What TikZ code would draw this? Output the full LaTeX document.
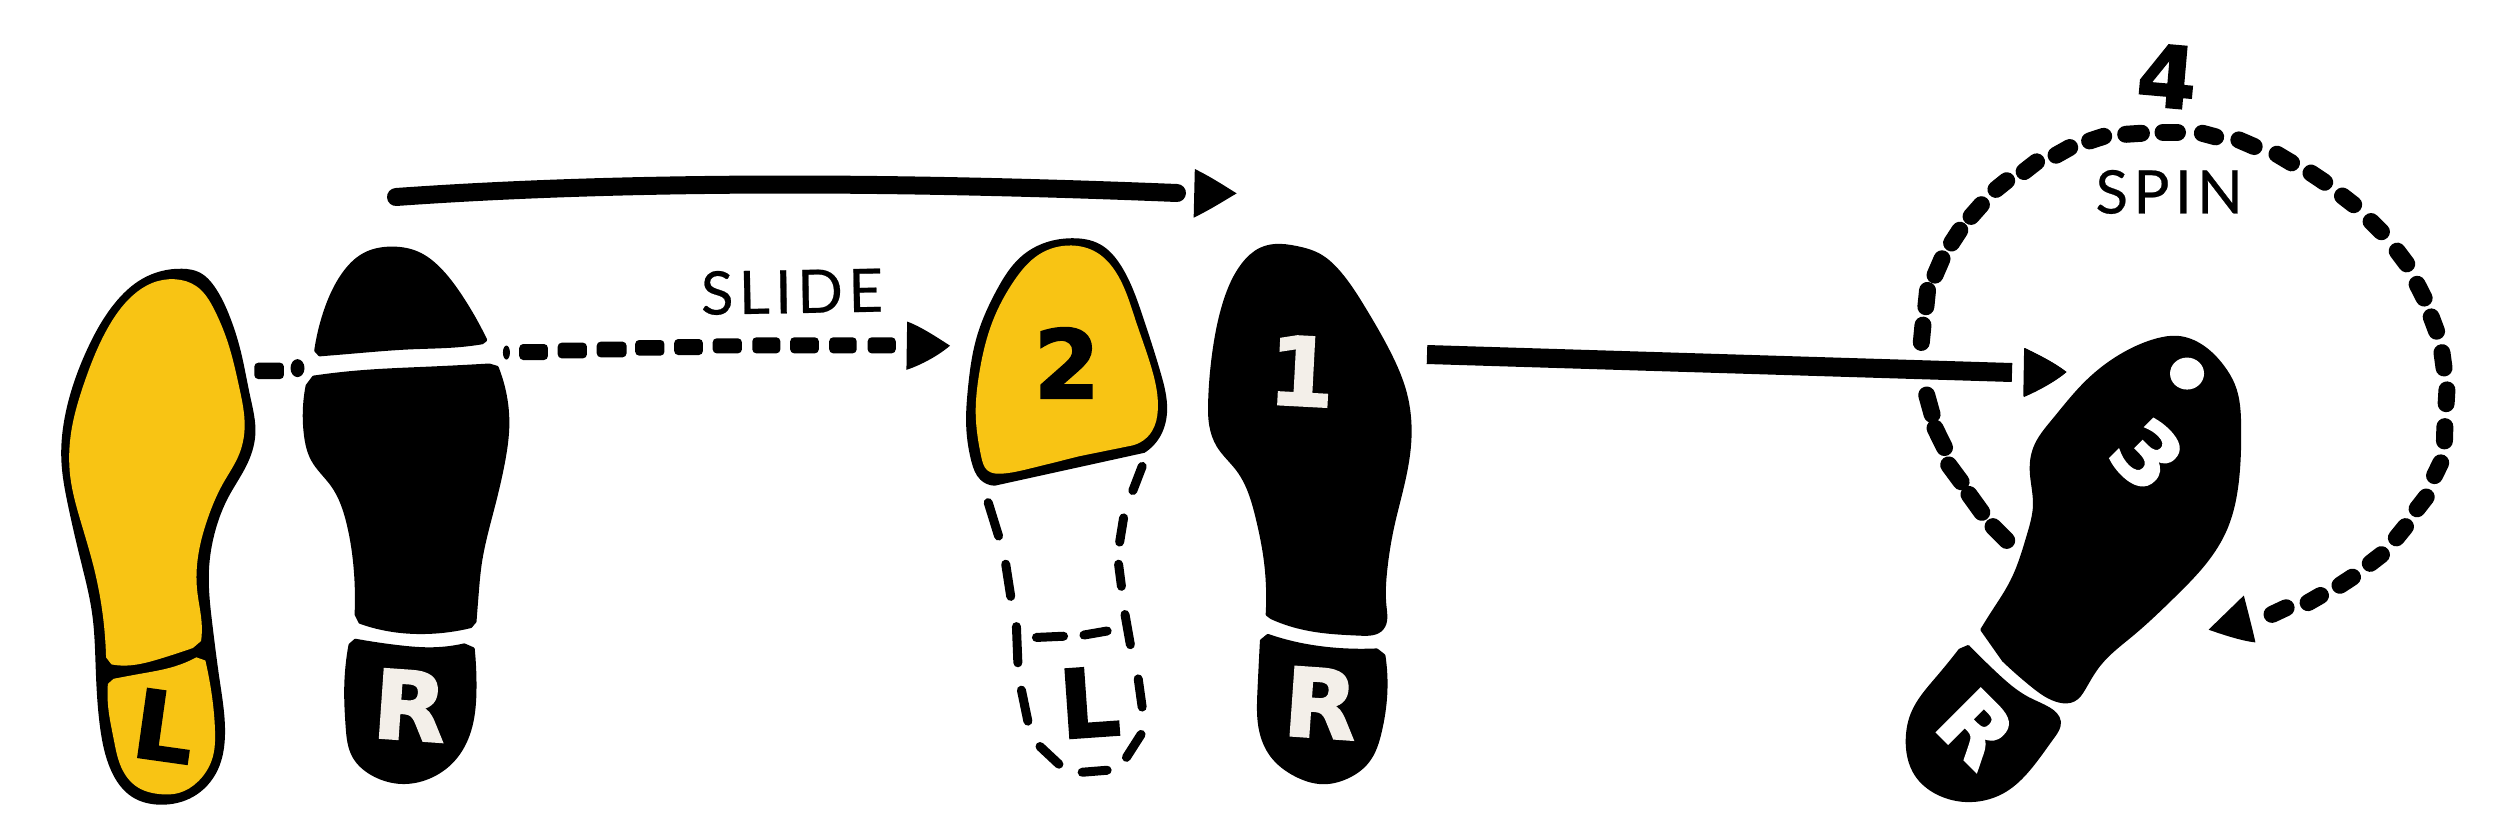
\documentclass[tikz,border=0pt]{standalone}
\usepackage{fontspec}
\usetikzlibrary{hobby}
\newfontfamily\labelfont[LetterSpace=9,FakeBold=0.4]{Lato}
\newfontfamily\glyphfont[FakeBold=2]{DejaVu Sans}
\definecolor{soleyellow}{RGB}{248,196,20}
\definecolor{solecream}{RGB}{243,239,233}
\tikzset{
  leftpair/.style={shift={(0,220)},x=0.35714pt,y=-0.38980pt},
  midpair/.style={shift={(900,200)},x=0.35714pt,y=-0.40242pt},
  turnfoot/.style={shift={(1850,20)},x=0.41454pt,y=-0.51020pt},
  slidearea/.style={shift={(370,140)},x=0.57398pt,y=-0.33333pt},
  solepart/.style={use Hobby shortcut,line width=3pt,line join=round},
  blackglyph/.style={text=black,inner sep=0pt,font=\glyphfont\bfseries\fontsize{95}{95}\selectfont},
  creamglyph/.style={blackglyph,text=solecream},
  wordlabel/.style={text=black,inner sep=0pt,font=\labelfont\fontsize{60}{60}\selectfont},
  thindash/.style={line width=9pt,line cap=round},
  fatdash/.style={line width=17pt,line cap=round},
  slidedash/.style={fill=black,rounded corners=4pt},
}
\begin{document}
\begin{tikzpicture}[x=1pt,y=-1pt]
  \useasboundingbox (0,0) rectangle (2500,831);

  % First pair, left foot in yellow and right foot in black
  \begin{scope}[leftpair]
    \fill[use Hobby shortcut,closed=true] (510,125) .. (560,135) .. (600,170) .. (640,240) .. (675,340) .. (700,450) .. (715,550) .. (690,630) .. (640,710) .. (605,790) .. (585,900) .. (595,1040) .. (615,1180) .. (630,1320) .. (610,1410) .. (540,1480) .. (450,1500) .. (370,1480) .. (310,1410) .. (280,1300) .. (268,1150) .. (258,1010) .. (225,870) .. (190,730) .. (172,620) .. (190,470) .. (245,330) .. (320,215) .. (400,150);
    \fill[soleyellow,solepart] (297,1122) .. (290,1030) .. (265,900) .. (225,770) .. (197,660) .. (200,540) .. (235,420) .. (300,280) .. (370,195) .. (425,162) .. (490,152) .. (550,170) .. (600,230) .. (640,320) .. (670,430) .. (685,530) .. (670,600) .. (625,675) .. (580,770) .. (555,860) .. (552,950) .. (565,1040) .. (563,1080) -- (540,1098) .. (450,1125) .. (340,1143) .. (312,1140) -- cycle;
    \fill[soleyellow,solepart] (318,1177) .. (400,1163) .. (490,1145) .. (550,1122) -- (575,1130) .. (590,1200) .. (602,1310) .. (595,1380) .. (555,1440) .. (500,1470) .. (450,1473) .. (385,1455) .. (340,1405) .. (318,1330) .. (303,1250) .. (302,1190) -- cycle;
    \node[blackglyph,rotate=-8] (leftheel) at (460,1298) {L};

    \filldraw[solepart] (884,335) .. (910,235) .. (960,140) .. (1020,88) .. (1100,72) .. (1170,85) .. (1230,125) .. (1290,195) .. (1360,308) -- (1350,315) .. (1290,322) .. (1150,328) .. (1000,338) .. (895,346) -- cycle;
    \filldraw[solepart] (1392,378) .. (1410,430) .. (1422,520) .. (1410,620) .. (1380,740) .. (1345,880) .. (1336,960) .. (1330,1030) -- (1318,1043) .. (1200,1058) .. (1080,1050) .. (1008,1032) -- (997,1012) .. (995,900) .. (975,780) .. (930,680) .. (875,615) .. (855,550) .. (860,425) -- (878,403) .. (1000,390) .. (1200,380) .. (1370,372) -- cycle;
    \filldraw[solepart] (995,1078) .. (1040,1085) .. (1120,1095) .. (1210,1100) .. (1300,1090) -- (1325,1100) .. (1330,1200) .. (1315,1310) .. (1270,1385) .. (1200,1430) .. (1125,1443) .. (1050,1425) .. (990,1375) .. (972,1300) .. (968,1200) .. (980,1090) -- cycle;
    \node[creamglyph,rotate=-4] (rightheel) at (1148,1245) {R};

    % Dashes either side of the black sole
    \fill[slidedash] (712,366) rectangle (795,408);
    \fill (833,380) ellipse [x radius=7pt,y radius=9pt];
    \fill (1418,340) ellipse [x radius=3.5pt,y radius=7pt];
  \end{scope}

  % Long arrow over the first two steps
  \coordinate (longstart) at (396,197);
  \coordinate (longend) at (1177,193);
  \draw[line width=18pt,line cap=round] (longstart) .. controls (650,179) and (930,183) .. (longend);

  % Slide arrow
  \begin{scope}[slidearea]
    \fill (1437,87) .. controls (1470,115) and (1495,145) .. (1510,160) .. controls (1490,180) and (1465,208) .. (1435,233) -- cycle;
    \foreach \xa/\ya/\xb/\yb in {260/612/310/660,327/608/378/655,395/605/447/652,462/600/513/647,530/597/580/645,597/595/648/640,666/592/715/640,732/592/782/640,800/592/848/640,867/592/916/640}
      \fill[slidedash] (\xa,\ya) rectangle (\xb,\yb);
    \node[wordlabel,rotate=1] (slidelabel) at (735,455) {SLIDE};
  \end{scope}

  % Second pair, with the lifted heel only dashed
  \begin{scope}[midpair]
    \fill (20,302) .. controls (60,315) and (110,345) .. (140,362) .. controls (110,385) and (60,410) .. (18,422) -- cycle;
    \fill[solepart] (685,628) .. (730,585) .. (748,520) .. (730,430) .. (680,290) .. (620,165) .. (560,110) .. (480,95) .. (410,105) .. (340,140) .. (270,225) .. (215,340) .. (190,470) .. (185,550) .. (200,650) .. (225,695) .. (265,710) -- cycle;
    \fill[soleyellow,solepart] (650,610) .. (705,575) .. (722,520) .. (705,420) .. (660,300) .. (605,180) .. (550,130) .. (480,113) .. (390,135) .. (320,200) .. (260,300) .. (222,430) .. (212,530) .. (228,640) .. (245,672) .. (285,680) .. (360,668) .. (500,637) -- cycle;
    \node[blackglyph] (stepnum2) at (467,405) {2};
    \foreach \xa/\ya/\xb/\yb in {678/662/652/722,626/790/615/850,612/905/620/960,630/1030/645/1105,667/1190/678/1260,675/1328/634/1385,580/1417/510/1422,445/1402/392/1358,358/1295/340/1218,330/1150/326/1060,310/985/296/905,276/835/247/752,382/1087/458/1084,515/1081/580/1071}
      \draw[thindash] (\xa,\ya) -- (\xb,\yb);
    \node[blackglyph,rotate=4] (ghostheel) at (530,1248) {L};

    \filldraw[solepart] (1028,1030) .. (1022,890) .. (1000,790) .. (945,670) .. (890,610) .. (870,560) .. (867,500) .. (880,370) .. (910,250) .. (960,160) .. (1010,122) .. (1050,113) .. (1110,118) .. (1170,135) .. (1230,180) .. (1300,270) .. (1370,380) .. (1415,480) .. (1428,590) .. (1410,700) .. (1380,810) .. (1360,920) .. (1358,1010) .. (1350,1065) .. (1290,1079) .. (1180,1072) .. (1090,1055) .. (1040,1038) -- cycle;
    \filldraw[solepart] (1030,1082) .. (1100,1100) .. (1230,1117) .. (1335,1118) -- (1355,1132) .. (1360,1230) .. (1345,1320) .. (1310,1395) .. (1250,1435) .. (1185,1448) .. (1110,1430) .. (1040,1380) .. (1010,1320) .. (1005,1220) .. (1012,1095) -- cycle;
    \node[creamglyph,rotate=-4] (midheel) at (1178,1250) {R};
    \node[creamglyph,rotate=-3] (stepnum1) at (1125,425) {1};
  \end{scope}

  % Straight arrow to the turned foot
  \coordinate (turnstart) at (1427,354.5);
  \coordinate (turnend) at (2012,372.5);
  \draw[line width=19pt] (turnstart) -- (turnend);

  % Turned foot and the dashed spin around it
  \begin{scope}[turnfoot]
    \foreach \xa/\ya/\xb/\yb in {345/993/378/1020,287/930/318/965,238/872/268/905,205/800/228/838,185/735/198/773,176/598/172/632,187/530/183/562,205/500/222/468,245/437/265/412,292/385/317/362,352/332/378/315,420/297/450/278,497/265/530/250,578/237/612/228,665/224/703/222,755/220/790/220,850/222/882/229,938/235/975/248,1030/263/1065/280,1112/300/1145/318,1188/345/1215/362,1257/395/1282/415,1320/453/1343/478,1368/518/1385/545,1402/582/1415/610,1428/652/1433/682,1440/725/1438/752,1435/797/1434/825,1425/868/1410/893,1390/935/1368/958,1340/993/1318/1015,1282/1048/1255/1065,1212/1092/1182/1108,1135/1128/1105/1142,1052/1152/1018/1165}
      \draw[fatdash] (\xa,\ya) -- (\xb,\yb);
    \fill (420,643) .. controls (455,655) and (500,675) .. (522,690) .. controls (495,708) and (450,728) .. (418,738) -- cycle;
    \fill (950,1128) .. controls (960,1160) and (970,1190) .. (978,1220) .. controls (945,1217) and (900,1205) .. (865,1195) -- cycle;

    \filldraw[solepart] (318,1195) .. (345,1160) .. (390,1100) .. (430,1010) .. (445,950) .. (437,880) .. (445,840) .. (490,785) .. (570,710) .. (670,650) .. (740,627) .. (790,622) .. (850,640) .. (900,680) .. (925,715) .. (940,800) .. (935,900) .. (905,1000) .. (860,1060) .. (780,1130) .. (680,1205) .. (600,1265) .. (565,1310) .. (540,1333) .. (505,1335) .. (440,1305) .. (370,1255) -- cycle;
    \fill[white] (813,693) ellipse [x radius=17pt,y radius=16pt];
    \node[blackglyph,text=white,rotate=-45,scale=0.9] (stepnum3) at (718,852) {3};
    \filldraw[solepart] (285,1228) .. (350,1280) .. (430,1330) .. (480,1350) .. (505,1375) .. (490,1405) .. (430,1470) .. (375,1510) .. (290,1530) .. (210,1515) .. (160,1480) .. (138,1410) .. (150,1360) .. (210,1290) .. (265,1235) -- cycle;
    \node[blackglyph,text=white,rotate=-45,scale=0.9] (turnheel) at (305,1388) {R};
    \node[blackglyph,rotate=-5,scale=0.9] (stepnum4) at (765,110) {4};
    \node[wordlabel] (spinlabel) at (770,337) {SPIN};
  \end{scope}

  % Tip of the straight arrow
  \fill (2025,348) .. controls (2040,356) and (2056,364) .. (2066.5,372) .. controls (2056,381) and (2040,390) .. (2024,397) -- cycle;
\end{tikzpicture}
\end{document}
